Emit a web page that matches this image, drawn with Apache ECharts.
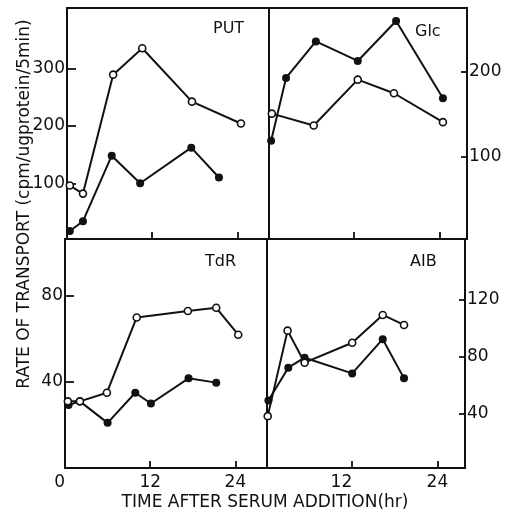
<!DOCTYPE html>
<html>
<head>
<meta charset="utf-8">
<script src="https://cdn.jsdelivr.net/npm/echarts@6/dist/echarts.min.js"></script>
<style>
  html, body { margin: 0; padding: 0; background: #fff; }
  #chart { width: 509px; height: 514px; }
</style>
</head>
<body>
<div id="chart"></div>
<script>
// Uptake rates (cpm/ug protein/5 min) at hours after serum addition.
// "open" = open-circle series, "filled" = filled-circle series.
const putOpenHours   = [0.4, 2.25, 6.5, 10.6, 17.6, 24.5];
const putOpen        = [96, 82, 289, 335, 242, 204];
const putFilledHours = [0.4, 2.25, 6.3, 10.3, 17.5, 21.4];
const putFilled      = [17, 34, 148, 100, 162, 110];

const glcOpenHours   = [0.4, 6.3, 12.5, 17.6, 24.5];
const glcOpen        = [151, 137, 191, 175, 141];
const glcFilledHours = [0.3, 2.4, 6.6, 12.5, 17.9, 24.5];
const glcFilled      = [119, 193, 236, 213, 260, 169];

const tdrOpenHours   = [0.4, 2.1, 5.9, 10.1, 17.3, 21.3, 24.4];
const tdrOpen        = [31, 31, 35, 70, 73, 74.5, 62];
const tdrFilledHours = [0.5, 2.1, 6.0, 9.9, 12.1, 17.4, 21.3];
const tdrFilled      = [29.3, 31, 21, 35, 30, 41.7, 39.7];

const aibOpenHours   = [0.1, 2.9, 5.3, 12.0, 16.3, 19.3];
const aibOpen        = [38, 98, 75.5, 89.5, 109, 102];
const aibFilledHours = [0.2, 3.0, 5.3, 12.0, 16.3, 19.3];
const aibFilled      = [49, 72, 79, 68, 92, 64.5];

// Tick positions and labels
const hourTicks       = [12, 24];
const hourLabelsLeft  = [0, 12, 24];
const hourLabelsRight = [12, 24];
const putTicks = [100, 200, 300];
const glcTicks = [100, 200];
const tdrTicks = [40, 80];
const aibTicks = [40, 80, 120];

const INK = '#111';
const FONT = 'DejaVu Sans';

const zip = (xs, ys) => xs.map((x, i) => [x, ys[i]]);

const panels = [
  { name: 'PUT', rect: { left: 67,  top: 8,   width: 202, height: 231 }, y: [3, 405],     yTicks: putTicks, side: 'left',  xLabels: null,
    open: zip(putOpenHours, putOpen), filled: zip(putFilledHours, putFilled), tag: [213, 30] },
  { name: 'Glc', rect: { left: 269, top: 8,   width: 198, height: 231 }, y: [3.5, 275.3], yTicks: glcTicks, side: 'right', xLabels: null,
    open: zip(glcOpenHours, glcOpen), filled: zip(glcFilledHours, glcFilled), tag: [415, 33] },
  { name: 'TdR', rect: { left: 65,  top: 239, width: 202, height: 229 }, y: [0, 106.5],   yTicks: tdrTicks, side: 'left',  xLabels: hourLabelsLeft,
    open: zip(tdrOpenHours, tdrOpen), filled: zip(tdrFilledHours, tdrFilled), tag: [205, 263] },
  { name: 'AIB', rect: { left: 267, top: 239, width: 198, height: 229 }, y: [1.6, 162.3], yTicks: aibTicks, side: 'right', xLabels: hourLabelsRight,
    open: zip(aibOpenHours, aibOpen), filled: zip(aibFilledHours, aibFilled), tag: [410, 263] }
];

const PX_PER_HOUR = 7.1;

const grid = [], xAxis = [], yAxis = [], series = [], graphic = [];

panels.forEach((p, i) => {
  grid.push(Object.assign({
    show: true, borderColor: INK, borderWidth: 2, backgroundColor: 'transparent'
  }, p.rect));

  xAxis.push({
    type: 'value', gridIndex: i, position: 'bottom', min: 0, max: p.rect.width / PX_PER_HOUR,
    axisLine: { show: false, onZero: false }, splitLine: { show: false },
    axisTick: { show: true, inside: true, length: 7, customValues: hourTicks,
                lineStyle: { color: INK, width: 1.8 } },
    axisLabel: p.xLabels ? {
      show: true, customValues: p.xLabels, color: INK, fontFamily: FONT, fontSize: 17, margin: 6,
      formatter: v => String(v), alignMinLabel: 'right'
    } : { show: false }
  });

  yAxis.push({
    type: 'value', gridIndex: i, position: p.side, min: p.y[0], max: p.y[1],
    axisLine: { show: false, onZero: false }, splitLine: { show: false },
    axisTick: { show: true, inside: true, length: p.side === 'left' ? 9 : 6, customValues: p.yTicks,
                lineStyle: { color: INK, width: 1.8 } },
    axisLabel: { show: true, customValues: p.yTicks, color: INK, fontFamily: FONT, fontSize: 17,
                 margin: 2, formatter: v => String(v) }
  });

  series.push({
    type: 'line', xAxisIndex: i, yAxisIndex: i, data: p.filled,
    symbol: 'circle', symbolSize: 8, showAllSymbol: true,
    lineStyle: { color: INK, width: 2 }, itemStyle: { color: INK },
    emphasis: { disabled: true }, animation: false, z: 2
  });
  series.push({
    type: 'line', xAxisIndex: i, yAxisIndex: i, data: p.open,
    symbol: 'circle', symbolSize: 7, showAllSymbol: true,
    lineStyle: { color: INK, width: 2 },
    itemStyle: { color: '#fff', borderColor: INK, borderWidth: 1.6 },
    emphasis: { disabled: true }, animation: false, z: 3
  });

  graphic.push({
    type: 'text', left: p.tag[0], top: p.tag[1] - 9,
    style: { text: p.name, fill: INK, font: '16px "' + FONT + '"' }
  });
});

graphic.push({
  type: 'text', x: 265, y: 503, style: {
    text: 'TIME AFTER SERUM ADDITION(hr)', fill: INK, font: '17px "' + FONT + '"',
    align: 'center', verticalAlign: 'middle'
  }
});
graphic.push({
  type: 'text', x: 25, y: 204, rotation: Math.PI / 2, style: {
    text: 'RATE OF TRANSPORT (cpm/ugprotein/5min)', fill: INK, font: '17px "' + FONT + '"',
    align: 'center', verticalAlign: 'middle'
  }
});

const chart = echarts.init(document.getElementById('chart'), null, { renderer: 'canvas' });
chart.setOption({
  backgroundColor: '#fff',
  animation: false,
  grid, xAxis, yAxis, series, graphic
});
</script>
</body>
</html>
